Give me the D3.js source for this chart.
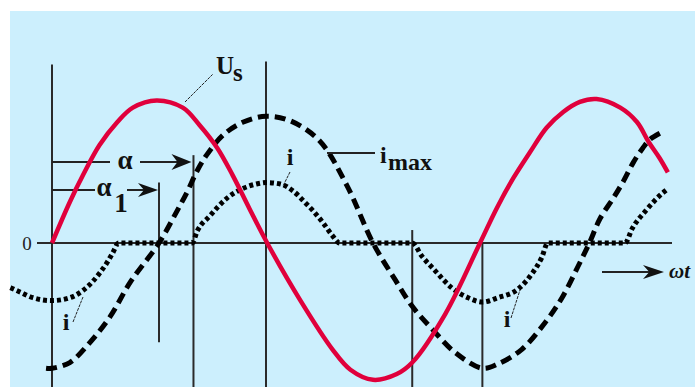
<!DOCTYPE html>
<html>
<head>
<meta charset="utf-8">
<script src="https://cdn.jsdelivr.net/npm/d3@7"></script>
<style>
  body { margin: 0; background: #fff; }
  svg { display: block; }
  .lbl { font-family: "Liberation Serif", "Times New Roman", serif; font-weight: bold; fill: #111; }
</style>
</head>
<body>
<div id="chart"></div>
<script>
// angles in degrees (wt), values relative to the supply peak
var usDeg = [0, 15, 26, 40, 55, 68, 88, 110, 124, 139, 152, 166, 181, 209, 236, 251, 270, 290, 303, 331, 360, 374, 388, 402, 416, 430, 444, 458, 478, 492, 502, 511, 518];
var usVal = [0, 0.285, 0.47, 0.68, 0.84, 0.94, 0.99, 0.94, 0.82, 0.66, 0.47, 0.24, 0, -0.40, -0.74, -0.88, -0.95, -0.91, -0.83, -0.49, 0, 0.24, 0.45, 0.63, 0.80, 0.91, 0.98, 1.0, 0.94, 0.84, 0.70, 0.59, 0.49];

var imaxDeg = [-5, 0, 15, 32, 49, 66, 90, 105, 114, 122, 130, 144, 161, 180, 200, 225, 248, 270, 289, 303, 320, 339, 362, 375, 395, 415, 429, 442, 452, 461, 472, 480, 489, 497, 503, 513];
var imaxVal = [-0.87, -0.87, -0.83, -0.69, -0.51, -0.27, 0, 0.22, 0.36, 0.50, 0.61, 0.75, 0.84, 0.88, 0.85, 0.71, 0.40, 0, -0.26, -0.44, -0.60, -0.76, -0.87, -0.84, -0.74, -0.55, -0.38, -0.17, 0, 0.17, 0.31, 0.42, 0.56, 0.66, 0.72, 0.77];

var iDeg = [-35, -27, -16, 0, 15, 26, 34, 40, 46, 51, 56, 118, 122, 133, 147, 161, 172, 180, 192, 203, 213, 220, 228, 236, 242, 303, 311, 322, 336, 350, 362, 375, 392, 404, 412, 417, 482, 488, 500, 514, 517];
var iVal = [-0.31, -0.34, -0.38, -0.40, -0.38, -0.33, -0.27, -0.21, -0.14, -0.07, 0, 0, 0.08, 0.19, 0.31, 0.38, 0.41, 0.42, 0.41, 0.36, 0.28, 0.22, 0.14, 0.05, 0, 0, -0.09, -0.19, -0.31, -0.38, -0.41, -0.38, -0.32, -0.21, -0.10, 0, 0, 0.10, 0.23, 0.35, 0.37];

// vertical guide lines: angle, top value, bottom value
var guideDeg = [0, 90, 119, 180, 303, 362];
var guideTop = [1.24, 0.42, 0.61, 1.26, 0.09, 0];
var guideBot = [-1.0, -0.69, -1.0, -1.0, -1.0, -1.0];

var width = 695, height = 387;

var svg = d3.select("#chart").append("svg")
    .attr("width", width)
    .attr("height", height);

svg.append("rect")
    .attr("x", 10).attr("y", 11)
    .attr("width", width - 10).attr("height", height - 11)
    .attr("fill", "#cceffd");

var x = d3.scaleLinear().domain([0, 180]).range([52, 266]);
var y = d3.scaleLinear().domain([-1, 1]).range([387, 99]);

// guides
guideDeg.forEach(function (d, k) {
    svg.append("line")
        .attr("x1", x(d)).attr("x2", x(d))
        .attr("y1", y(guideTop[k])).attr("y2", y(guideBot[k]))
        .attr("stroke", "#2a2a2a").attr("stroke-width", 2);
});

// horizontal axis
svg.append("line")
    .attr("x1", 37).attr("x2", 672)
    .attr("y1", y(0)).attr("y2", y(0))
    .attr("stroke", "#2a2a2a").attr("stroke-width", 2);

svg.append("text")
    .attr("x", 27).attr("y", y(0) + 7)
    .attr("text-anchor", "middle")
    .style("font-family", "Liberation Serif, serif")
    .style("font-size", "19px")
    .style("fill", "#222")
    .text("0");

function arrowHead(tx, ty, len, half) {
    svg.append("path")
        .attr("d", "M" + tx + "," + ty + " L" + (tx - len) + "," + (ty - half) +
            " L" + (tx - len * 0.7) + "," + ty + " L" + (tx - len) + "," + (ty + half) + " Z")
        .attr("fill", "#111");
}

// alpha arrows
var aY = 162, a1Y = 190;
svg.append("line").attr("x1", x(0)).attr("x2", 110).attr("y1", aY).attr("y2", aY)
    .attr("stroke", "#222").attr("stroke-width", 2);
svg.append("line").attr("x1", 140).attr("x2", x(119) - 10).attr("y1", aY).attr("y2", aY)
    .attr("stroke", "#222").attr("stroke-width", 2);
arrowHead(x(119) - 2, aY, 20, 8);
svg.append("text").attr("class", "lbl").attr("x", 125).attr("y", aY + 7)
    .attr("text-anchor", "middle").style("font-size", "27px").text("α");

svg.append("line").attr("x1", x(0)).attr("x2", 95).attr("y1", a1Y).attr("y2", a1Y)
    .attr("stroke", "#222").attr("stroke-width", 2);
svg.append("line").attr("x1", 127).attr("x2", x(90) - 10).attr("y1", a1Y).attr("y2", a1Y)
    .attr("stroke", "#222").attr("stroke-width", 2);
arrowHead(x(90) - 1, a1Y, 20, 7);
svg.append("text").attr("class", "lbl").attr("x", 104).attr("y", a1Y + 6)
    .attr("text-anchor", "middle").style("font-size", "27px").text("α");
svg.append("text").attr("class", "lbl").attr("x", 121).attr("y", 212)
    .attr("text-anchor", "middle").style("font-size", "27px").text("1");

// wt arrow
svg.append("line").attr("x1", 602).attr("x2", 650).attr("y1", 272).attr("y2", 272)
    .attr("stroke", "#222").attr("stroke-width", 2);
arrowHead(664, 272, 21, 7);
svg.append("text").attr("x", 669).attr("y", 278)
    .style("font-family", "Liberation Serif, serif")
    .style("font-weight", "bold").style("font-style", "italic")
    .style("font-size", "21px").style("fill", "#111")
    .text("ωt");

// curves
function lineOf(degs, vals, curve) {
    return d3.line()
        .x(function (d, k) { return x(degs[k]); })
        .y(function (d, k) { return y(vals[k]); })
        .curve(curve)(vals);
}

svg.append("path")
    .attr("d", lineOf(iDeg, iVal, d3.curveMonotoneX))
    .attr("fill", "none").attr("stroke", "#000")
    .attr("stroke-width", 5).attr("stroke-dasharray", "4,3");

svg.append("path")
    .attr("d", lineOf(imaxDeg, imaxVal, d3.curveCatmullRom.alpha(0.5)))
    .attr("fill", "none").attr("stroke", "#000")
    .attr("stroke-width", 5).attr("stroke-dasharray", "11,6");

svg.append("path")
    .attr("d", lineOf(usDeg, usVal, d3.curveCatmullRom.alpha(0.5)))
    .attr("fill", "none").attr("stroke", "#e0003c")
    .attr("stroke-width", 4.5).attr("stroke-linejoin", "round");

// leaders and labels
function leader(x1, y1, x2, y2) {
    svg.append("line").attr("x1", x1).attr("y1", y1).attr("x2", x2).attr("y2", y2)
        .attr("stroke", "#222").attr("stroke-width", 1).attr("stroke-dasharray", "3,1");
}
leader(185, 102, 213, 74);
svg.append("text").attr("class", "lbl").attr("x", 216).attr("y", 74)
    .style("font-size", "25px").text("U");
svg.append("text").attr("class", "lbl").attr("x", 233).attr("y", 81)
    .style("font-size", "25px").text("s");

leader(290, 172, 283, 186);
svg.append("text").attr("class", "lbl").attr("x", 290).attr("y", 165)
    .attr("text-anchor", "middle").style("font-size", "24px").text("i");

svg.append("line").attr("x1", 327).attr("x2", 375).attr("y1", 153).attr("y2", 153)
    .attr("stroke", "#222").attr("stroke-width", 2);
svg.append("text").attr("class", "lbl").attr("x", 380).attr("y", 163)
    .style("font-size", "24px").text("i");
svg.append("text").attr("class", "lbl").attr("x", 388).attr("y", 170)
    .style("font-size", "24px").text("max");

leader(73, 322, 83, 297);
svg.append("text").attr("class", "lbl").attr("x", 66).attr("y", 330)
    .attr("text-anchor", "middle").style("font-size", "24px").text("i");

leader(511, 318, 520, 290);
svg.append("text").attr("class", "lbl").attr("x", 507).attr("y", 327)
    .attr("text-anchor", "middle").style("font-size", "24px").text("i");
</script>
</body>
</html>
